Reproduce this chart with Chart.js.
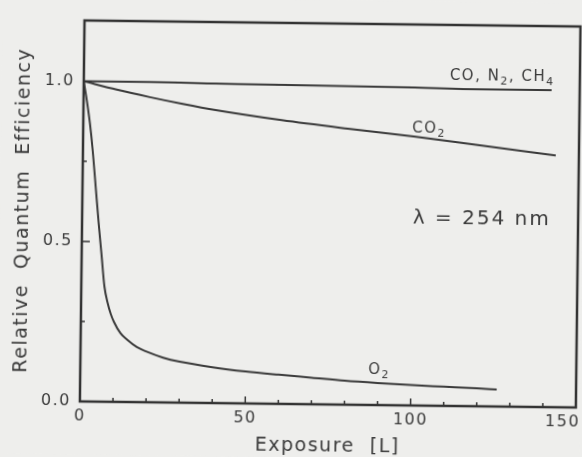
<!DOCTYPE html>
<html>
  <head>
    <title>Relative Quantum Efficiency</title>
    <style>
      body { margin: 0; background: #eeeeec; }
      #wrap { width: 582px; height: 457px; overflow: hidden; }
      /* the printed figure sits slightly askew on the page */
      #myChart { transform: rotate(0.7deg); }
    </style>
  </head>
  <body>

    <div id="wrap">
      <canvas id="myChart" width="582" height="457"></canvas>
    </div>

    <script src="https://cdn.jsdelivr.net/npm/chart.js"></script>
    <script>

    // exposure in L, efficiency relative to the clean surface
    const o2_exposure = [0, 1, 2, 3, 4, 5, 6, 7, 8, 9, 10, 12, 14, 17, 20, 25, 30, 40, 50, 60, 70, 80, 90, 100, 110, 120, 126];
    const o2_eff = [1.0, 0.94, 0.87, 0.78, 0.67, 0.56, 0.46, 0.36, 0.31, 0.275, 0.25, 0.215, 0.195, 0.172, 0.158, 0.14, 0.128, 0.112, 0.1, 0.091, 0.083, 0.075, 0.069, 0.064, 0.06, 0.056, 0.053];

    const co_exposure = [0, 20, 40, 60, 80, 100, 120, 141.5];
    const co_eff = [1.0, 1.0, 0.998, 0.996, 0.995, 0.993, 0.99, 0.99];

    const co2_exposure = [0, 10, 20, 30, 40, 60, 80, 100, 120, 143];
    const co2_eff = [1.0, 0.975, 0.953, 0.933, 0.915, 0.886, 0.862, 0.84, 0.815, 0.786];

    const x_ticks = [0, 10, 20, 30, 40, 50, 60, 70, 80, 90, 100, 110, 120, 130, 140, 150];
    const x_labels = [0, 50, 100, 150];
    const y_ticks = [0, 0.25, 0.5, 0.75, 1.0];
    const y_labels = [0, 0.5, 1.0];

    const ink = '#3a3a3a';
    const family = '"DejaVu Sans", sans-serif';

    function to_points(xs, ys) {
      return xs.map((x, i) => ({x: x, y: ys[i]}));
    }

    function line_set(label, xs, ys) {
      return {
        label: label,
        data: to_points(xs, ys),
        borderColor: ink,
        borderWidth: 2,
        pointRadius: 0,
        fill: false,
        cubicInterpolationMode: 'monotone'
      };
    }

    // wide lettering for every piece of text
    function spacing(chart) {
      chart.ctx.letterSpacing = '1.5px';
    }

    // draws [text, isSub] pieces centred on (x, y)
    function sub_text(ctx, parts, x, y) {
      const big = '15px ' + family;
      const small = '11px ' + family;
      let width = 0;
      parts.forEach(p => {
        ctx.font = p[1] ? small : big;
        width += ctx.measureText(p[0]).width;
      });
      let px = x - width / 2;
      ctx.textAlign = 'left';
      parts.forEach(p => {
        ctx.font = p[1] ? small : big;
        ctx.fillText(p[0], px, p[1] ? y + 5 : y);
        px += ctx.measureText(p[0]).width;
      });
    }

    // frame, inward ticks and curve labels
    const framePlugin = {
      id: 'frame',
      beforeUpdate: spacing,
      beforeDraw(chart) {
        const ctx = chart.ctx;
        spacing(chart);
        ctx.save();
        ctx.fillStyle = '#eeeeec';
        ctx.fillRect(0, 0, chart.width, chart.height);
        ctx.restore();
      },
      afterDraw(chart) {
        const ctx = chart.ctx;
        const a = chart.chartArea;
        const xs = chart.scales.x;
        const ys = chart.scales.y;

        ctx.save();
        ctx.strokeStyle = '#333';
        ctx.lineWidth = 2.5;
        ctx.strokeRect(a.left, a.top, a.right - a.left, a.bottom - a.top);

        ctx.lineWidth = 1.5;
        ctx.beginPath();
        x_ticks.forEach(v => {
          const px = xs.getPixelForValue(v);
          const len = x_labels.includes(v) ? 7 : 4;
          ctx.moveTo(px, a.bottom);
          ctx.lineTo(px, a.bottom - len);
        });
        y_ticks.forEach(v => {
          const py = ys.getPixelForValue(v);
          const len = y_labels.includes(v) ? 8 : 4;
          ctx.moveTo(a.left, py);
          ctx.lineTo(a.left + len, py);
        });
        ctx.stroke();

        ctx.fillStyle = ink;
        ctx.textBaseline = 'middle';
        ctx.letterSpacing = '1.5px';
        sub_text(ctx, [['CO, N', 0], ['2', 1], [', CH', 0], ['4', 1]],
          xs.getPixelForValue(126.5), ys.getPixelForValue(1.03));
        sub_text(ctx, [['CO', 0], ['2', 1]],
          xs.getPixelForValue(104.6), ys.getPixelForValue(0.866));
        sub_text(ctx, [['O', 0], ['2', 1]],
          xs.getPixelForValue(90.4), ys.getPixelForValue(0.109));

        ctx.font = '20px ' + family;
        ctx.letterSpacing = '2px';
        ctx.textAlign = 'left';
        ctx.fillText('λ = 254 nm', xs.getPixelForValue(100), ys.getPixelForValue(0.585));
        ctx.restore();
      }
    };

    const ctx = document.getElementById('myChart');

    const chart_config = {
      type: 'line',
      data: {
        datasets: [
          line_set('O2', o2_exposure, o2_eff),
          line_set('CO, N2, CH4', co_exposure, co_eff),
          line_set('CO2', co2_exposure, co2_eff)
        ]
      },
      options: {
        responsive: false,
        animation: false,
        layout: {padding: {top: 23, right: 4, left: 0, bottom: 0}},
        plugins: {
          legend: {display: false},
          tooltip: {enabled: false}
        },
        scales: {
          x: {
            type: 'linear',
            min: 0,
            max: 150,
            afterBuildTicks: s => { s.ticks = x_labels.map(v => ({value: v})); },
            afterFit: s => { s.height = 53; s.paddingLeft = 0; s.paddingRight = 0; },
            grid: {display: false, drawTicks: false},
            border: {display: false},
            ticks: {
              padding: 5,
              color: ink,
              autoSkip: false,
              maxRotation: 0,
              font: {family: family, size: 16},
              // last label sits flush against the right edge
              callback: v => v === 150 ? '150    ' : String(v)
            },
            title: {
              display: true,
              text: 'Exposure  [L]',
              color: ink,
              font: {family: family, size: 19},
              padding: {top: 0, bottom: 0}
            }
          },
          y: {
            type: 'linear',
            min: 0,
            max: 1.19,
            afterBuildTicks: s => { s.ticks = y_labels.map(v => ({value: v})); },
            afterFit: s => { s.width = 82; s.paddingTop = 0; s.paddingBottom = 0; },
            grid: {display: false, drawTicks: false},
            border: {display: false},
            ticks: {
              padding: 9,
              color: ink,
              font: {family: family, size: 16},
              callback: v => v.toFixed(1)
            },
            title: {
              display: true,
              text: 'Relative  Quantum  Efficiency',
              color: ink,
              font: {family: family, size: 19},
              padding: {top: 12, bottom: 0}
            }
          }
        }
      },
      plugins: [framePlugin]
    };

    new Chart(ctx, chart_config);

    </script>
  </body>
</html>
